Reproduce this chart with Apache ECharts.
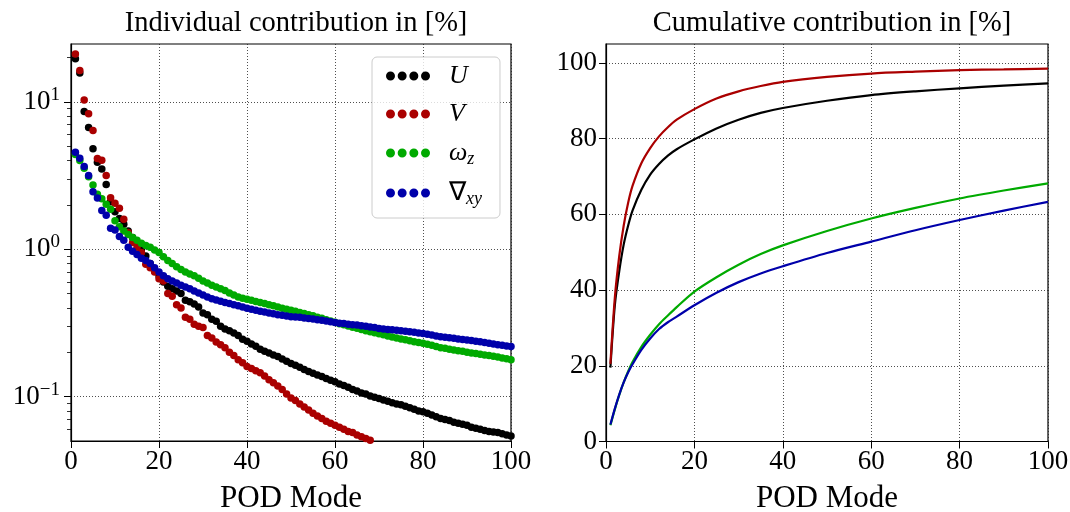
<!DOCTYPE html>
<html>
<head>
<meta charset="utf-8">
<script src="https://cdn.jsdelivr.net/npm/echarts@6/dist/echarts.min.js"></script>
<style>
  html, body { margin: 0; padding: 0; background: #fff; }
  #chart { width: 1070px; height: 512px; }
</style>
</head>
<body>
<div id="chart"></div>
<script>
// Individual POD mode energy contribution in %, modes 1..100
const contribU = [
  19.6, 15.7, 8.6, 6.7, 4.8, 3.9, 3.5, 2.75, 2.1, 1.8,
  1.62, 1.48, 1.33, 1.2, 1.1, 1.0, 0.9, 0.8, 0.72, 0.66,
  0.6, 0.56, 0.54, 0.52, 0.5, 0.45, 0.44, 0.425, 0.405, 0.37,
  0.36, 0.335, 0.325, 0.3, 0.288, 0.28, 0.27, 0.26, 0.245, 0.238,
  0.228, 0.22, 0.21, 0.203, 0.198, 0.192, 0.187, 0.18, 0.174, 0.168,
  0.163, 0.158, 0.153, 0.148, 0.144, 0.14, 0.137, 0.133, 0.129, 0.126,
  0.122, 0.119, 0.116, 0.112, 0.109, 0.106, 0.104, 0.101, 0.099, 0.097,
  0.095, 0.093, 0.091, 0.089, 0.088, 0.086, 0.084, 0.082, 0.080, 0.079,
  0.077, 0.075, 0.073, 0.071, 0.070, 0.069, 0.067, 0.066, 0.065, 0.064,
  0.062, 0.061, 0.060, 0.059, 0.058, 0.0575, 0.057, 0.056, 0.055, 0.054
];
const contribV = [
  21.1, 16.3, 10.3, 8.3, 6.4, 4.13, 4.02, 3.17, 2.24, 2.05,
  1.9, 1.6, 1.3, 1.11, 1.03, 0.95, 0.79, 0.75, 0.70, 0.63,
  0.61, 0.50, 0.48, 0.42, 0.40, 0.345, 0.335, 0.31, 0.30, 0.295,
  0.26, 0.25, 0.235, 0.225, 0.215, 0.2, 0.19, 0.178, 0.17, 0.16,
  0.155, 0.15, 0.145, 0.138, 0.13, 0.124, 0.118, 0.112, 0.104, 0.098,
  0.094, 0.089, 0.085, 0.081, 0.077, 0.074, 0.071, 0.068, 0.066, 0.064,
  0.062, 0.060, 0.058, 0.057, 0.055, 0.0535, 0.052, 0.0505
];
const contribW = [
  4.4, 4.0, 3.55, 3.1, 2.73, 2.36, 2.2, 2.02, 1.87, 1.56,
  1.42, 1.33, 1.26, 1.2, 1.15, 1.1, 1.06, 1.03, 0.99, 0.95,
  0.89, 0.84, 0.8, 0.76, 0.73, 0.7, 0.68, 0.66, 0.635, 0.61,
  0.59, 0.57, 0.555, 0.54, 0.525, 0.505, 0.49, 0.475, 0.465, 0.458,
  0.45, 0.442, 0.435, 0.428, 0.42, 0.413, 0.405, 0.398, 0.392, 0.386,
  0.38, 0.372, 0.366, 0.36, 0.354, 0.346, 0.34, 0.333, 0.326, 0.32,
  0.312, 0.307, 0.302, 0.296, 0.291, 0.286, 0.28, 0.276, 0.271, 0.267,
  0.263, 0.258, 0.254, 0.25, 0.246, 0.243, 0.239, 0.236, 0.233, 0.23,
  0.227, 0.223, 0.219, 0.215, 0.213, 0.21, 0.207, 0.205, 0.203, 0.2,
  0.198, 0.196, 0.194, 0.192, 0.19, 0.188, 0.186, 0.183, 0.181, 0.178
];
const contribG = [
  4.56, 4.15, 3.65, 3.17, 2.46, 2.23, 1.83, 1.70, 1.39, 1.35,
  1.22, 1.15, 1.03, 0.97, 0.92, 0.87, 0.84, 0.8, 0.75, 0.7,
  0.66, 0.63, 0.61, 0.59, 0.57, 0.555, 0.54, 0.52, 0.505, 0.49,
  0.475, 0.462, 0.452, 0.443, 0.435, 0.428, 0.42, 0.413, 0.405, 0.398,
  0.392, 0.386, 0.38, 0.375, 0.37, 0.365, 0.36, 0.356, 0.352, 0.349,
  0.347, 0.345, 0.342, 0.339, 0.336, 0.333, 0.33, 0.326, 0.322, 0.318,
  0.315, 0.313, 0.31, 0.308, 0.306, 0.303, 0.3, 0.297, 0.294, 0.29,
  0.288, 0.286, 0.284, 0.282, 0.28, 0.278, 0.276, 0.273, 0.27, 0.268,
  0.265, 0.262, 0.258, 0.255, 0.253, 0.251, 0.249, 0.246, 0.244, 0.242,
  0.24, 0.238, 0.236, 0.233, 0.23, 0.228, 0.225, 0.223, 0.221, 0.219
];

// Cumulative contribution in %, sampled at these modes
const cumModes = [1, 2, 3, 4, 5, 6, 8, 10, 12, 14, 16, 20, 25, 30, 35, 40, 50, 60, 70, 80, 90, 100];
const cumU = [19.5, 36, 45, 52, 57, 61, 66.5, 70.5, 73.3, 75.5, 77.2, 79.8, 82.7, 85, 86.8, 88.1, 90, 91.5, 92.5, 93.3, 94, 94.6];
const cumV = [20.5, 38, 49, 57, 63, 67.5, 73.5, 77.5, 80.6, 83, 85, 87.8, 90.6, 92.5, 93.9, 95, 96.3, 97.2, 97.7, 98.1, 98.3, 98.5];
const cumW = [4.3, 8.5, 12.3, 15.6, 18.5, 21, 25, 28.2, 31, 33.3, 35.5, 39.6, 43.4, 46.7, 49.5, 51.8, 55.6, 58.9, 61.7, 64.2, 66.3, 68.2];
const cumG = [4.5, 8.7, 12.4, 15.6, 18.2, 20.4, 24.2, 27.2, 29.7, 31.5, 33.0, 36.0, 39.3, 42.1, 44.4, 46.3, 49.8, 52.8, 55.8, 58.5, 61, 63.3];

const seriesNames = ['U', 'V', 'ωz', '∇xy'];
const seriesColors = ['#000000', '#aa0000', '#00aa00', '#0000aa'];
const xTicks = [0, 20, 40, 60, 80, 100];
const logTicks = [0.1, 1, 10];
const logMinorTicks = [0.06, 0.07, 0.08, 0.09, 0.2, 0.3, 0.4, 0.5, 0.6, 0.7, 0.8, 0.9, 2, 3, 4, 5, 6, 7, 8, 9, 20];
const cumTicks = [0, 20, 40, 60, 80, 100];

const FONT = 'Liberation Serif';
const TICK_FS = 27;
const gridLine = { show: true, lineStyle: { color: '#222', width: 0.8, type: [1, 2] } };

function pairs(xs, ys) { return ys.map((v, i) => [xs[i], v]); }
function modePairs(ys) { return ys.map((v, i) => [i + 1, v]); }

// four-dot legend glyph
const dotIcon = 'path://M0,1a1,1 0 1,0 2,0a1,1 0 1,0 -2,0M2.6,1a1,1 0 1,0 2,0a1,1 0 1,0 -2,0M5.2,1a1,1 0 1,0 2,0a1,1 0 1,0 -2,0M7.8,1a1,1 0 1,0 2,0a1,1 0 1,0 -2,0';

const chart = echarts.init(document.getElementById('chart'), null, { renderer: 'canvas' });

const left = { left: 71, top: 44, width: 440, height: 397 };
const right = { left: 606, top: 44, width: 442, height: 397.5 };

function xAxisOf(gridIndex) {
  return {
    gridIndex: gridIndex, type: 'value', min: 0, max: 100, interval: 20,
    name: 'POD Mode', nameLocation: 'middle', nameGap: 42,
    nameTextStyle: { fontFamily: FONT, fontSize: 31, color: '#000' },
    axisLine: { show: true, lineStyle: { color: '#000', width: 1.2 } },
    axisTick: { show: true, length: 7, lineStyle: { color: '#000', width: 1 } },
    axisLabel: { fontFamily: FONT, fontSize: TICK_FS, color: '#000', margin: 7, customValues: xTicks },
    splitLine: gridLine
  };
}

function scatterOf(i, values) {
  return {
    name: seriesNames[i], type: 'scatter', xAxisIndex: 0, yAxisIndex: 0, symbolSize: 7.5,
    itemStyle: { color: seriesColors[i], opacity: 1 }, data: modePairs(values)
  };
}

function lineOf(i, values) {
  return {
    name: seriesNames[i], type: 'line', xAxisIndex: 1, yAxisIndex: 1, smooth: 0.3, showSymbol: false,
    lineStyle: { color: seriesColors[i], width: 2.2 }, itemStyle: { color: seriesColors[i] },
    data: pairs(cumModes, values)
  };
}

const option = {
  backgroundColor: '#fff',
  animation: false,
  textStyle: { fontFamily: FONT, color: '#000' },
  title: [
    { text: 'Individual contribution in [%]', left: left.left + left.width / 2, top: 4, textAlign: 'center',
      textStyle: { fontFamily: FONT, fontSize: 28.5, fontWeight: 'normal', color: '#000' } },
    { text: 'Cumulative contribution in [%]', left: right.left + right.width / 2, top: 4, textAlign: 'center',
      textStyle: { fontFamily: FONT, fontSize: 28.5, fontWeight: 'normal', color: '#000' } }
  ],
  grid: [
    Object.assign({ show: true, borderColor: '#000', borderWidth: 1.2, outerBoundsMode: 'none', containLabel: false }, left),
    Object.assign({ show: true, borderColor: '#000', borderWidth: 1.2, outerBoundsMode: 'none', containLabel: false }, right)
  ],
  legend: {
    data: seriesNames,
    orient: 'vertical',
    left: 372, top: 57,
    itemWidth: 44, itemHeight: 9,
    itemGap: 10,
    icon: dotIcon,
    padding: [5, 18, 10, 14],
    backgroundColor: 'rgba(255,255,255,0.8)',
    borderColor: '#cccccc', borderWidth: 1, borderRadius: 5,
    formatter: function (name) {
      if (name === 'U') return '{i|U}';
      if (name === 'V') return '{i|V}';
      if (name === 'ωz') return '{i|ω}{s|z}';
      return '{n|∇}{s|xy}';
    },
    textStyle: {
      fontFamily: FONT, fontSize: 26, color: '#000', lineHeight: 28,
      rich: {
        i: { fontFamily: FONT, fontSize: 26, fontStyle: 'italic', padding: [0, 0, 0, 14], lineHeight: 28 },
        n: { fontFamily: FONT, fontSize: 26, padding: [0, 0, 0, 14], lineHeight: 28 },
        s: { fontFamily: FONT, fontSize: 18, fontStyle: 'italic', padding: [12, 0, 0, 0], lineHeight: 28 }
      }
    }
  },
  xAxis: [xAxisOf(0), xAxisOf(1)],
  yAxis: [
    {
      gridIndex: 0, type: 'log', logBase: 10, min: 0.05, max: 24.7,
      axisLine: { show: true, lineStyle: { color: '#000', width: 1.2 } },
      axisTick: { show: true, length: 7, lineStyle: { color: '#000', width: 1 }, customValues: logTicks },
      axisLabel: {
        fontFamily: FONT, fontSize: TICK_FS, color: '#000', margin: 11, customValues: logTicks,
        formatter: function (v) {
          const e = Math.round(Math.log10(v));
          return '{b|10}{sup|' + (e < 0 ? '−' + (-e) : e) + '}';
        },
        rich: {
          b: { fontFamily: FONT, fontSize: TICK_FS },
          sup: { fontFamily: FONT, fontSize: 19, padding: [0, 0, 14, 0] }
        }
      },
      splitLine: gridLine
    },
    {
      gridIndex: 1, type: 'value', min: 0, max: 105, interval: 20,
      axisLine: { show: true, lineStyle: { color: '#000', width: 1.2 } },
      axisTick: { show: true, length: 7, lineStyle: { color: '#000', width: 1 }, customValues: cumTicks },
      axisLabel: { fontFamily: FONT, fontSize: TICK_FS, color: '#000', margin: 9, customValues: cumTicks },
      splitLine: gridLine
    },
    {
      // minor ticks of the log axis
      gridIndex: 0, type: 'log', logBase: 10, min: 0.05, max: 24.7, position: 'left', offset: 0,
      axisLine: { show: false },
      axisTick: { show: true, length: 4, lineStyle: { color: '#000', width: 0.8 }, customValues: logMinorTicks },
      axisLabel: { show: false },
      splitLine: { show: false }
    }
  ],
  series: [
    scatterOf(0, contribU),
    scatterOf(1, contribV),
    scatterOf(2, contribW),
    scatterOf(3, contribG),
    lineOf(0, cumU),
    lineOf(1, cumV),
    lineOf(2, cumW),
    lineOf(3, cumG)
  ]
};

chart.setOption(option);
</script>
</body>
</html>
